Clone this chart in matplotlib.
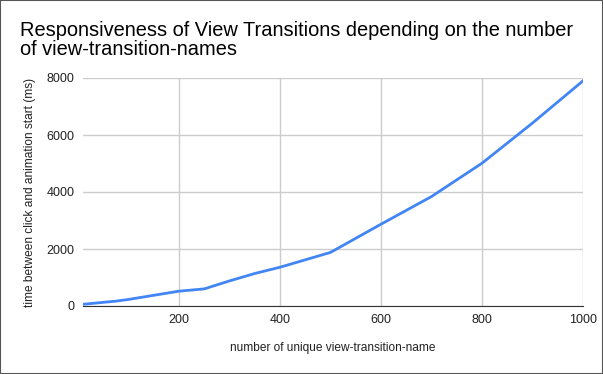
import matplotlib
matplotlib.use('Agg')
import matplotlib.pyplot as plt
from matplotlib.patches import Rectangle

# values
names_count = [10, 75, 100, 200, 250, 300, 350, 400, 500, 600, 700, 800, 900, 1000]
delay_ms = [60, 170, 230, 520, 600, 880, 1140, 1360, 1880, 2870, 3840, 5010, 6420, 7900]
x_ticks = [200, 400, 600, 800, 1000]
y_ticks = [0, 2000, 4000, 6000, 8000]

plt.rcParams['font.family'] = ['Liberation Sans', 'DejaVu Sans']

fig = plt.figure(figsize=(6.03, 3.74), dpi=100)
ax = fig.add_axes([83 / 603, 68 / 374, 500 / 603, 228 / 374])

ax.plot(names_count, delay_ms, color='#4285f4', linewidth=2, zorder=3)

ax.set_xlim(10, 1000)
ax.set_ylim(0, 8000)
ax.set_xticks(x_ticks)
ax.set_yticks(y_ticks)
ax.grid(True, color='#cccccc', linewidth=1)
ax.set_axisbelow(True)
for side in ['top', 'right', 'left']:
    ax.spines[side].set_visible(False)
ax.spines['bottom'].set_color('#333333')
ax.tick_params(length=0, labelsize=9, colors='#222222', pad=6)

ax.set_xlabel('number of unique view-transition-name', fontsize=8.6, color='#222222', labelpad=11)
ax.set_ylabel('time between click and animation start (ms)', fontsize=8.6, color='#222222', labelpad=8)

fig.text(20 / 603, 1 - 21 / 374, 'Responsiveness of View Transitions depending on the number\nof view-transition-names',
         fontsize=14.4, color='#000000', va='top', ha='left', linespacing=0.98)

fig.patches.append(Rectangle((0, 0), 1, 1, transform=fig.transFigure, fill=False,
                             edgecolor='#555555', linewidth=1.5))

fig.savefig('out.png', dpi=100)
